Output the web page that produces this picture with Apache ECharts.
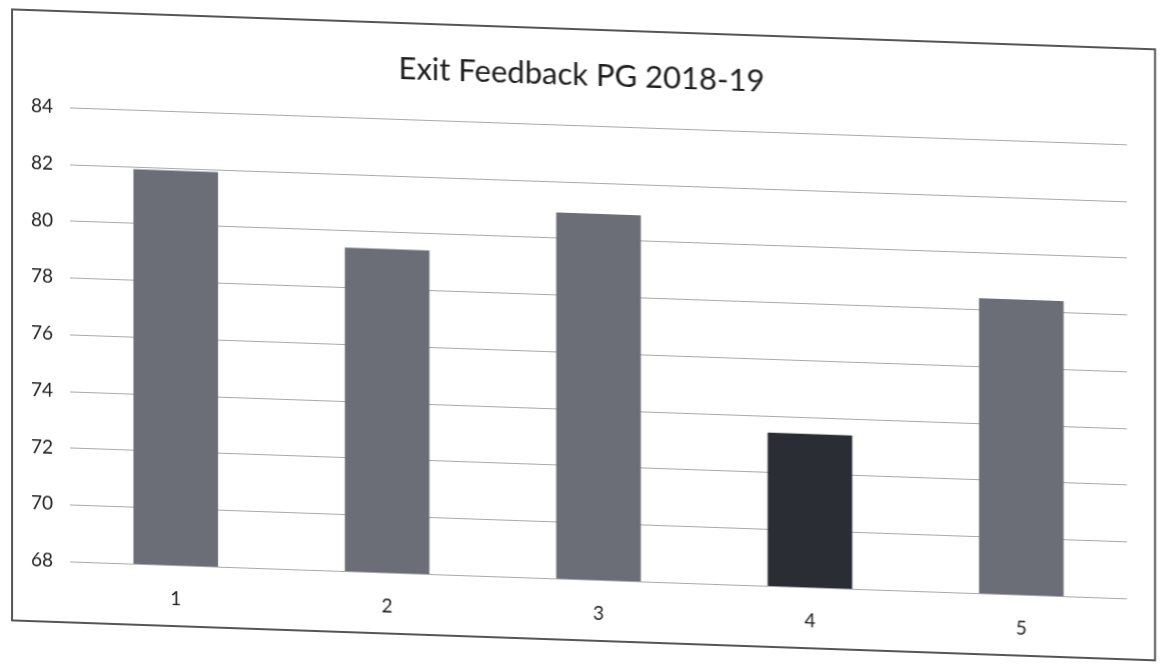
<!DOCTYPE html>
<html>
<head>
<meta charset="utf-8">
<script src="https://cdn.jsdelivr.net/npm/echarts@6/dist/echarts.min.js"></script>
<style>
  html, body { margin: 0; padding: 0; background: #fff; }
  /* the source is a slightly sheared scan, so the whole chart leans a little */
  #chart { width: 1163px; height: 666px; transform: skewY(2deg); transform-origin: 0 0; }
</style>
</head>
<body>
<div id="chart"></div>
<script>
// data
var categories = ['1', '2', '3', '4', '5'];
var scores = [81.9, 79.4, 80.9, 73.4, 78.4];
var yTicks = [68, 70, 72, 74, 76, 78, 80, 82, 84];

var myChart = echarts.init(document.getElementById('chart'));

var option = {
  backgroundColor: '#fff',
  animation: false,
  title: {
    text: 'Exit Feedback PG 2018-19',
    left: 'center',
    top: 34,
    textStyle: { fontFamily: 'Lato', fontSize: 31, fontWeight: 'normal', color: '#1c1c1c' }
  },
  graphic: [{
    type: 'rect',
    shape: { x: 12, y: 9, width: 1143, height: 611 },
    style: { fill: 'none', stroke: '#555', lineWidth: 2 },
    silent: true
  }],
  grid: { left: 70, right: 36, top: 105, bottom: 107 },
  xAxis: {
    type: 'category',
    data: categories,
    axisLine: { show: false },
    axisTick: { show: false },
    axisLabel: { margin: 24, fontFamily: 'Lato', fontSize: 19, color: '#1c1c1c' }
  },
  yAxis: {
    type: 'value',
    min: yTicks[0],
    max: yTicks[yTicks.length - 1],
    interval: 2,
    axisLine: { show: false },
    axisTick: { show: false },
    axisLabel: { margin: 17, fontFamily: 'Lato', fontSize: 19, color: '#1c1c1c' },
    splitLine: { lineStyle: { color: '#a9a9a9', width: 1 } }
  },
  series: [{
    type: 'bar',
    data: scores,
    barWidth: '40%',
    itemStyle: {
      color: function (p) { return p.dataIndex === 3 ? '#2b2d34' : '#6b6e76'; }
    }
  }]
};
myChart.setOption(option);
</script>
</body>
</html>
